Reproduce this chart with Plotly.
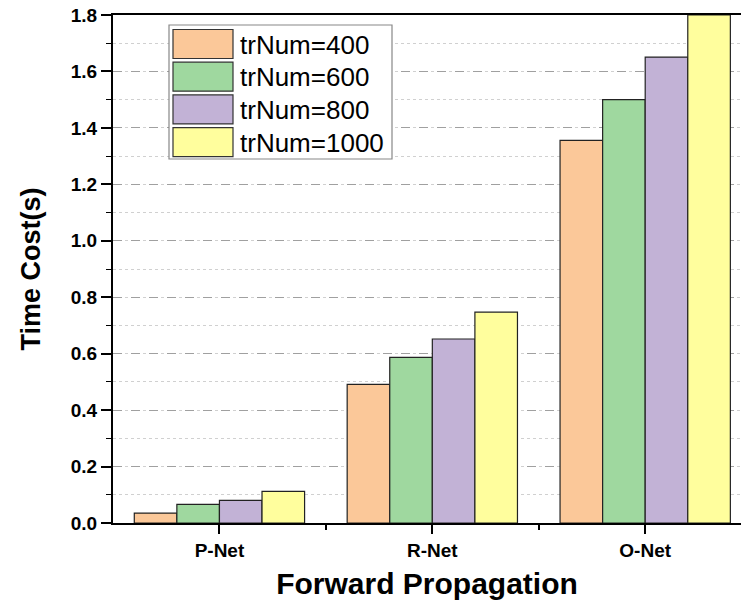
import plotly.graph_objects as go

categories = ["P-Net", "R-Net", "O-Net"]
series_names = ["trNum=400", "trNum=600", "trNum=800", "trNum=1000"]
values_400 = [0.035, 0.491, 1.356]
values_600 = [0.066, 0.587, 1.500]
values_800 = [0.080, 0.652, 1.651]
values_1000 = [0.112, 0.747, 1.800]
y_ticks = [0.0, 0.2, 0.4, 0.6, 0.8, 1.0, 1.2, 1.4, 1.6, 1.8]

colors = ["#FBC899", "#9FD89F", "#C2B2D6", "#FFFE9D"]
series = [values_400, values_600, values_800, values_1000]

W, H = 743, 613
L, R, T, B = 113, 2, 15, 90
pw, ph = W - L - R, H - T - B
FONT = "Liberation Sans, Arial"

def px_x(p):
    return (p - L) / pw

def px_y(p):
    return (H - B - p) / ph

fig = go.Figure()
xpos = list(range(len(categories)))
for name, vals, col in zip(series_names, series, colors):
    fig.add_trace(go.Bar(
        x=xpos, y=vals, name=name,
        marker=dict(color=col, line=dict(color="#222222", width=1.2)),
        showlegend=False,
    ))

# custom legend (big swatches like the original)
shapes = []
annotations = []
shapes.append(dict(type="rect", xref="paper", yref="paper",
                   x0=px_x(169), x1=px_x(392), y0=px_y(159), y1=px_y(25),
                   line=dict(color="#888888", width=1.2), fillcolor="white", layer="above"))
for i, (name, col) in enumerate(zip(series_names, colors)):
    top = 29.5 + i * 32.7
    shapes.append(dict(type="rect", xref="paper", yref="paper",
                       x0=px_x(173), x1=px_x(233), y0=px_y(top + 29), y1=px_y(top),
                       line=dict(color="#333333", width=1.2), fillcolor=col, layer="above"))
    annotations.append(dict(xref="paper", yref="paper", x=px_x(238), y=px_y(top + 15),
                            text=name, showarrow=False, xanchor="left", yanchor="middle",
                            font=dict(family=FONT, size=26, color="black")))

fig.update_layout(
    width=W, height=H,
    margin=dict(l=L, r=R, t=T, b=B),
    plot_bgcolor="white", paper_bgcolor="white",
    barmode="group", bargap=0.2, bargroupgap=0,
    shapes=shapes, annotations=annotations,
    font=dict(family=FONT, color="black"),
)
fig.update_xaxes(
    range=[-0.5, 2.45],
    tickmode="array", tickvals=xpos, ticktext=categories,
    ticks="outside", ticklen=9, tickwidth=1.5, tickcolor="black",
    tickfont=dict(size=19, weight="bold", family=FONT),
    minor=dict(tickmode="array", tickvals=[0.5, 1.5], ticks="outside", ticklen=5,
               tickwidth=1.5, tickcolor="black"),
    showline=True, linecolor="black", linewidth=2, mirror=True,
    showgrid=False, zeroline=False,
    title=dict(text="Forward Propagation", font=dict(size=30, weight="bold", family=FONT), standoff=13),
)
fig.update_yaxes(
    range=[0, 1.8],
    tickmode="array", tickvals=y_ticks, tickformat=".1f",
    ticks="outside", ticklen=10, tickwidth=1.5, tickcolor="black",
    tickfont=dict(size=19, weight="bold", family=FONT),
    minor=dict(dtick=0.1, tick0=0, ticks="outside", ticklen=5, tickwidth=1.2, tickcolor="black",
               showgrid=True, gridcolor="#D0D0D0", griddash="dot", gridwidth=1),
    showline=True, linecolor="black", linewidth=2,
    showgrid=True, gridcolor="#A0A0A0", griddash="dash", gridwidth=1,
    zeroline=False,
    title=dict(text="Time Cost(s)", font=dict(size=27, weight="bold", family=FONT), standoff=22),
)

fig.write_html("out.html", config={"displayModeBar": False},
               post_script="document.body.style.margin='0';document.body.style.padding='0';")
